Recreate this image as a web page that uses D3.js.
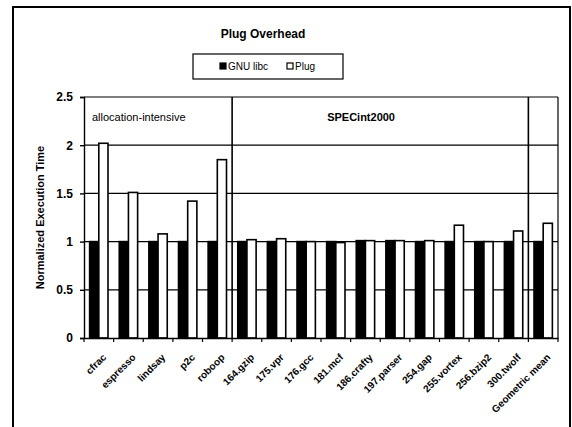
<!DOCTYPE html>
<html>
<head>
<meta charset="utf-8">
<script src="https://cdn.jsdelivr.net/npm/d3@7"></script>
<style>
    body { margin: 0; background: #fff; }
    svg text { font-family: "Liberation Sans", Arial, sans-serif; fill: #000; }
</style>
</head>
<body>
<div id="chart"></div>
<script>
//Datos
const categorias = ['cfrac', 'espresso', 'lindsay', 'p2c', 'roboop', '164.gzip', '175.vpr', '176.gcc', '181.mcf',
    '186.crafty', '197.parser', '254.gap', '255.vortex', '256.bzip2', '300.twolf', 'Geometric mean'];
const gnuLibc = [1.0, 1.0, 1.0, 1.0, 1.0, 1.0, 1.0, 1.0, 1.0, 1.01, 1.01, 1.0, 1.0, 1.0, 1.0, 1.0];
const plug = [2.02, 1.51, 1.08, 1.42, 1.85, 1.02, 1.03, 1.0, 0.99, 1.01, 1.01, 1.01, 1.17, 1.0, 1.11, 1.19];
const series = ['GNU libc', 'Plug'];
const yTicks = [0, 0.5, 1, 1.5, 2, 2.5];
const grupos = [
    {label: 'allocation-intensive', first: 'cfrac', bold: false},
    {label: 'SPECint2000', first: '164.gzip', bold: true}
];
const separadores = ['164.gzip', 'Geometric mean'];

let width = 572, height = 427;
let margin = {top: 97, right: 14, bottom: 89, left: 84};
let innerW = width - margin.left - margin.right,
    innerH = height - margin.top - margin.bottom;

let svg = d3.select('#chart')
    .append('svg')
    .attr('width', width)
    .attr('height', height);

//Marco exterior
svg.append('rect')
    .attr('x', 13).attr('y', 7)
    .attr('width', 557).attr('height', 440)
    .attr('fill', 'none').attr('stroke', '#000').attr('stroke-width', 2);

//Título
svg.append('text')
    .attr('x', 263).attr('y', 38)
    .attr('text-anchor', 'middle')
    .style('font-size', '12px').style('font-weight', 'bold')
    .text('Plug Overhead');

//Leyenda
let legend = svg.append('g');
legend.append('rect')
    .attr('x', 193).attr('y', 54).attr('width', 150).attr('height', 25)
    .attr('fill', '#fff').attr('stroke', '#000').attr('stroke-width', 1.2);
let legendX = [220, 287];
series.forEach(function(s, i) {
    legend.append('rect')
        .attr('x', legendX[i]).attr('y', 63).attr('width', 6).attr('height', 6)
        .attr('fill', i == 0 ? '#000' : '#fff')
        .attr('stroke', '#000').attr('stroke-width', 1.2);
    legend.append('text')
        .attr('x', legendX[i] + 8).attr('y', 70)
        .style('font-size', '10px')
        .text(s);
});

let g = svg.append('g')
    .attr('transform', 'translate(' + margin.left + ',' + margin.top + ')');

let x = d3.scaleBand()
    .domain(categorias)
    .range([0, innerW])
    .padding(0);

let y = d3.scaleLinear()
    .domain([0, 2.5])
    .range([innerH, 0]);

let xSub = d3.scaleBand()
    .domain(series)
    .range([x.bandwidth() * 0.19, x.bandwidth() * 0.81]);

//Rejilla
g.append('g')
    .selectAll('line')
    .data(yTicks.filter(function(d) { return d > 0; }))
    .enter()
    .append('line')
    .attr('x1', 0).attr('x2', innerW)
    .attr('y1', function(d) { return y(d); })
    .attr('y2', function(d) { return y(d); })
    .attr('stroke', '#000').attr('stroke-width', 1.2);

g.append('line')
    .attr('x1', innerW).attr('x2', innerW)
    .attr('y1', 0).attr('y2', innerH)
    .attr('stroke', '#000').attr('stroke-width', 1.2);

//Barras
let datos = categorias.map(function(c, i) {
    return {cat: c, values: [{key: 'GNU libc', value: gnuLibc[i]}, {key: 'Plug', value: plug[i]}]};
});

g.append('g')
    .selectAll('g')
    .data(datos)
    .enter()
    .append('g')
    .attr('transform', function(d) { return 'translate(' + x(d.cat) + ',0)'; })
    .selectAll('rect')
    .data(function(d) { return d.values; })
    .enter()
    .append('rect')
    .attr('x', function(d) { return xSub(d.key); })
    .attr('width', xSub.bandwidth())
    .attr('y', function(d) { return y(d.value); })
    .attr('height', function(d) { return y(0) - y(d.value); })
    .attr('fill', function(d) { return d.key == 'GNU libc' ? '#000' : '#fff'; })
    .attr('stroke', '#000')
    .attr('stroke-width', 1.6);

//Separadores de grupos
g.append('g')
    .selectAll('line')
    .data(separadores)
    .enter()
    .append('line')
    .attr('x1', function(d) { return x(d); })
    .attr('x2', function(d) { return x(d); })
    .attr('y1', 0).attr('y2', innerH)
    .attr('stroke', '#000').attr('stroke-width', 1.6);

g.selectAll('.grupo')
    .data(grupos)
    .enter()
    .append('text')
    .attr('class', 'grupo')
    .attr('x', function(d) { return d.bold ? x(d.first) + 95 : x(d.first) + 8; })
    .attr('y', 24)
    .style('font-size', '11px')
    .style('font-weight', function(d) { return d.bold ? 'bold' : 'normal'; })
    .text(function(d) { return d.label; });

//Eje Y
let yAxis = function(g) {
    g.call(d3.axisLeft(y).tickValues(yTicks).tickSize(4).tickFormat(function(d) { return d; }));
    g.call(function(g) { g.selectAll('.tick text')
        .attr('x', -11)
        .style('font-size', '12px').style('font-weight', 'bold')
        .style('font-family', '"Liberation Sans", Arial, sans-serif'); });
    g.call(function(g) { g.selectAll('line, path').attr('stroke', '#000').attr('stroke-width', 1.4); });
};
g.append('g').call(yAxis);

//Eje X
let xAxis = function(g) {
    g.call(d3.axisBottom(x).tickSize(0).tickFormat(''));
    g.call(function(g) { g.select('.domain').attr('stroke', '#000').attr('stroke-width', 1.4); });
    g.selectAll('.boundary')
        .data(categorias)
        .enter()
        .append('line')
        .attr('class', 'boundary')
        .attr('x1', function(d) { return x(d); })
        .attr('x2', function(d) { return x(d); })
        .attr('y1', 0).attr('y2', 4)
        .attr('stroke', '#000').attr('stroke-width', 1.2);
    g.append('line')
        .attr('x1', innerW).attr('x2', innerW)
        .attr('y1', 0).attr('y2', 4)
        .attr('stroke', '#000').attr('stroke-width', 1.2);
    g.selectAll('.label')
        .data(categorias)
        .enter()
        .append('text')
        .attr('class', 'label')
        .attr('text-anchor', 'end')
        .attr('transform', function(d) {
            return 'translate(' + (x(d) + x.bandwidth() / 2 + 8) + ',20) rotate(-45)';
        })
        .style('font-size', '10px').style('font-weight', 'bold')
        .text(function(d) { return d; });
};
g.append('g')
    .attr('transform', 'translate(0,' + innerH + ')')
    .call(xAxis);

//Título del eje Y
svg.append('text')
    .attr('transform', 'translate(44,' + (margin.top + innerH / 2) + ') rotate(-90)')
    .attr('text-anchor', 'middle')
    .style('font-size', '11px').style('font-weight', 'bold')
    .text('Normalized Execution Time');
</script>
</body>
</html>
